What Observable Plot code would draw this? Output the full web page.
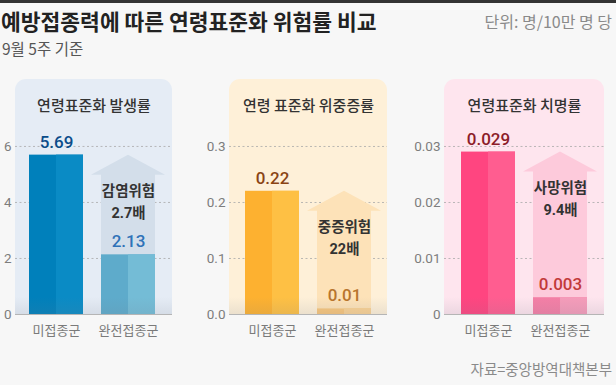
<!DOCTYPE html>
<html><head><meta charset="utf-8">
<script src="https://cdn.jsdelivr.net/npm/d3@7"></script>
<script src="https://cdn.jsdelivr.net/npm/@observablehq/plot@0.6"></script>
<style>
body{margin:0;background:#f7f7f7;}
#root{position:relative;width:616px;height:385px;overflow:hidden;background:#f7f7f7;border-top:3px solid #333;box-sizing:border-box;font-family:"Noto Sans CJK KR",sans-serif;}
#title{position:absolute;left:1px;top:3px;font-size:21.5px;font-weight:700;color:#222;line-height:30px;}
#unit{position:absolute;right:4px;top:5px;font-size:16px;color:#8a8a8a;line-height:26px;}
#sub{position:absolute;left:2px;top:34px;font-size:15.5px;color:#555;line-height:22px;}
#charts{position:absolute;left:0;top:64px;display:flex;}
#source{position:absolute;right:4px;top:355px;font-size:14.5px;color:#8a8a8a;line-height:22px;}
</style></head>
<body><div id="root">
<div id="title">예방접종력에 따른 연령표준화 위험률 비교</div>
<div id="unit">단위: 명/10만 명 당</div>
<div id="sub">9월 5주 기준</div>
<div id="charts"></div>
<div id="source">자료=중앙방역대책본부</div>
</div>
<script>
const categories = ["미접종군", "완전접종군"];
const panelTitles = ["연령표준화 발생률", "연령 표준화 위중증률", "연령표준화 치명률"];
const incidence = [5.69, 2.13];
const severe = [0.22, 0.01];
const fatality = [0.029, 0.003];
const riskLabels = ["감염위험", "중증위험", "사망위험"];
const riskRatios = ["2.7배", "22배", "9.4배"];
const yTicks = [[0, 2, 4, 6], [0, 0.1, 0.2, 0.3], [0, 0.01, 0.02, 0.03]];
const yMax = [8.39, 0.4196, 0.04196];
const tickFormats = [d3.format("d"), d3.format(".1f"), d => d === 0 ? "0" : d3.format(".2f")(d)];

const styles = [
  {width:200, mL:15, mR:28, po:0.215, align:0.45, bg:"#e5ecf5", arrow:"#d3deea",
   left:["#0080bb","#5eabcb"], right:["#0a8bc5","#74bcd6"], label:["#0b4c8a","#2f72b8"]},
  {width:215, mL:29, mR:28, po:0.222, align:0.5, bg:"#fef0d8", arrow:"#fde2b8",
   left:["#fdb130","#f7c57c"], right:["#fec044","#f9d194"], label:["#8a4414","#b8752d"]},
  {width:201, mL:29, mR:12, po:0.236, align:0.5, bg:"#fee5ee", arrow:"#fdcadb",
   left:["#ff4580","#f47fa6"], right:["#ff5d90","#f59cba"], label:["#8c1c28","#c23a3a"]}
];

function bw(scale) {
  if (!scale) return 54;
  return typeof scale.bandwidth === "function" ? scale.bandwidth() : (scale.bandwidth || 54);
}

function bgMark(fill) {
  return (index, scales, values, dims) => {
    const {width, height, marginLeft, marginRight, marginTop, marginBottom} = dims;
    const x0 = marginLeft, x1 = width - marginRight, y0 = marginTop, y1 = height - marginBottom, r = 11;
    return d3.create("svg:path")
      .attr("d", `M${x0},${y1}V${y0 + r}A${r},${r} 0 0 1 ${x0 + r},${y0}H${x1 - r}A${r},${r} 0 0 1 ${x1},${y0 + r}V${y1}Z`)
      .attr("fill", fill).node();
  };
}

function shadeMark(id) {
  return (index, scales, values, dims) => {
    const {width, height, marginLeft, marginRight, marginBottom} = dims;
    const g = d3.create("svg:g");
    const lg = g.append("defs").append("linearGradient").attr("id", id).attr("x1", 0).attr("x2", 0).attr("y1", 0).attr("y2", 1);
    lg.append("stop").attr("offset", "0%").attr("stop-color", "#707888").attr("stop-opacity", 0);
    lg.append("stop").attr("offset", "100%").attr("stop-color", "#707888").attr("stop-opacity", 0.13);
    const yb = height - marginBottom;
    g.append("rect").attr("x", marginLeft).attr("width", width - marginLeft - marginRight)
      .attr("y", yb - 17).attr("height", 17).attr("fill", `url(#${id})`);
    return g.node();
  };
}

function arrowMark(vals, fill) {
  return (index, scales, values, dims) => {
    const w = bw(scales.x);
    const cx = scales.x(categories[1]) + w / 2;
    const top = scales.y(vals[0]);
    const base = scales.y(0);
    const hw = 37, hh = 20;
    return d3.create("svg:path")
      .attr("d", `M${cx - hw},${top + hh}L${cx},${top}L${cx + hw},${top + hh}H${cx + w / 2}V${base}H${cx - w / 2}V${top + hh}Z`)
      .attr("fill", fill).node();
  };
}

function panel(i, vals) {
  const s = styles[i];
  const data = categories.map((c, j) => ({cat: c, v: vals[j], label: String(vals[j]),
    left: s.left[j], right: s.right[j], lc: s.label[j]}));
  const risk = [{cat: categories[1], v: vals[0]}];
  return Plot.plot({
    width: s.width, height: 278,
    marginLeft: s.mL, marginRight: s.mR, marginTop: 12, marginBottom: 31,
    style: {background: "transparent", fontFamily: "Roboto, 'Noto Sans CJK KR', sans-serif", overflow: "visible"},
    x: {domain: categories, paddingInner: 0.25, paddingOuter: s.po, align: s.align, axis: null},
    y: {domain: [0, yMax[i]], axis: null},
    marks: [
      bgMark(s.bg),
      Plot.gridY(yTicks[i].slice(1), {stroke: "#a8a8a8", strokeOpacity: 1, strokeDasharray: "2,2.5", strokeWidth: 0.8}),
      arrowMark(vals, s.arrow),
      Plot.barY(data, {x: "cat", y: "v", fill: "left"}),
      Plot.barY(data, {x: "cat", y: "v", fill: "right", insetLeft: 27}),
      shadeMark("sh" + i),
      Plot.ruleY([0], {stroke: "#b5b5b5", strokeWidth: 1.2}),
      Plot.axisY(yTicks[i], {tickSize: 0, tickPadding: 4, tickFormat: tickFormats[i], fontSize: 13.5, color: "#7d7d7d", label: null}),
      Plot.axisX({tickSize: 0, tickPadding: 11, fontSize: 13, color: "#7a7a7a", fontFamily: "'Noto Sans CJK KR'", label: null}),
      Plot.text(data, {x: "cat", y: "v", text: "label", dy: -13, fontSize: 17, fontWeight: 500, fill: "lc"}),
      Plot.text(risk, {x: "cat", y: "v", text: () => riskLabels[i], dy: 36, fontSize: 14.5, fontWeight: 700, fill: "#333", fontFamily: "'Noto Sans CJK KR'"}),
      Plot.text(risk, {x: "cat", y: "v", text: () => riskRatios[i], dy: 58, fontSize: 14.5, fontWeight: 700, fill: "#333", fontFamily: "Roboto, 'Noto Sans CJK KR'"}),
      Plot.text([panelTitles[i]], {frameAnchor: "top", dy: 21, fontSize: 15, fontWeight: 500, fill: "#333", fontFamily: "'Noto Sans CJK KR'"})
    ]
  });
}

const host = document.getElementById("charts");
[incidence, severe, fatality].forEach((vals, i) => host.appendChild(panel(i, vals)));
</script>
</body></html>
